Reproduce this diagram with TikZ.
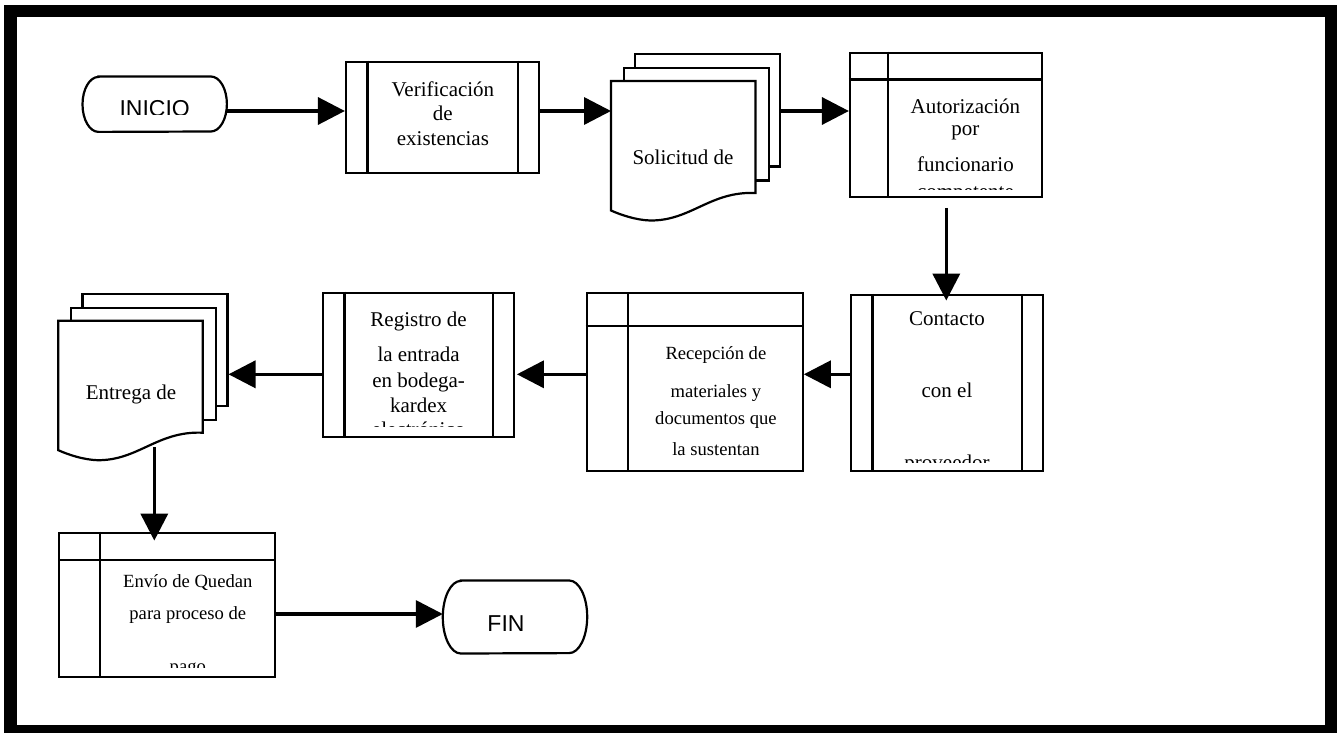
\documentclass[tikz,border=0pt]{standalone}
\usepackage{fontspec}
\setmainfont{Liberation Serif}
\newfontfamily\arialfont{Liberation Sans}
\usetikzlibrary{arrows.meta,calc}

\tikzset{
  outline/.style={line width=2.2pt, line join=miter},
  boxnode/.style={outline, draw, fill=white, rectangle, inner sep=0pt},
  page/.style={outline, draw, fill=white, rectangle, inner sep=0pt,
    minimum width=145pt, minimum height=112.5pt, anchor=north west},
  anchorbox/.style={inner sep=0pt, rectangle},
  conn/.style={line width=3.5pt, -{Triangle[length=27pt,width=27pt]}},
  txt/.style={inner sep=0pt, anchor=base, font=\fontsize{21}{25}\selectfont},
  smalltxt/.style={inner sep=0pt, anchor=base, font=\fontsize{18.6}{22}\selectfont},
  sanstxt/.style={inner sep=0pt, anchor=base, font=\arialfont\fontsize{23}{27}\selectfont},
}

% stack of three document sheets; #1 name prefix, (#2,#3) top-left of the front sheet
\newcommand\docstack[3]{%
  \node[page] (#1B) at (#2+23,#3-28) {};
  \node[page] (#1M) at (#2+11.5,#3-14) {};
  \node[anchorbox, minimum width=144.5pt, minimum height=139.5pt, anchor=north west] (#1F) at (#2,#3) {};
  \draw[outline, fill=white] (#2,#3) -- (#2+144.5,#3) -- (#2+144.5,#3+112)
    .. controls (#2+99,#3+110) and (#2+80,#3+140) .. (#2+39,#3+139.5)
    .. controls (#2+25,#3+139) and (#2+10,#3+134) .. (#2,#3+129.5) -- cycle;
}

% predefined process: two inner vertical bars
\newcommand\subbars[1]{%
  \draw[outline] ($(#1.north west)+(22.5,0)$) -- ($(#1.south west)+(22.5,0)$);
  \draw[outline] ($(#1.north east)+(-22.5,0)$) -- ($(#1.south east)+(-22.5,0)$);
}

% internal storage: one horizontal and one vertical divider
\newcommand\storagelines[3]{%
  \draw[outline] ($(#1.north west)+(0,#2)$) -- ($(#1.north east)+(0,#2)$);
  \draw[outline] ($(#1.north west)+(#3,0)$) -- ($(#1.south west)+(#3,0)$);
}

% terminal with elliptic ends
\newcommand\terminal[3]{%
  \draw[outline] ($(#1.north west)+(#2,0)$) -- ($(#1.north east)+(-#2,0)$)
    arc[start angle=90,end angle=-90,x radius=#2pt,y radius=#3pt]
    -- ($(#1.south west)+(#2,0)$)
    arc[start angle=270,end angle=90,x radius=#2pt,y radius=#3pt] -- cycle;
}

\begin{document}
\begin{tikzpicture}[x=1pt,y=-1pt]
\useasboundingbox (0,0) rectangle (1342,733);
\clip (0,0) rectangle (1342,733);
\fill[white] (0,0) rectangle (1342,733);

% outer frame
\draw[line width=12.5pt] (10.5,11) rectangle (1331,731);

% row coordinates for the connectors
\coordinate (row1) at (0,111);
\coordinate (row2) at (0,374.3);
\coordinate (row3) at (0,614);
\coordinate (entdrop) at (154.3,447);

% ---------- start ----------
\node[anchorbox, minimum width=144pt, minimum height=55pt] (inicio) at (154.7,104.2) {};
\terminal{inicio}{16}{27.5}
\begin{scope}
  \clip (80,70) rectangle (230,114.3);
  \node[sanstxt] (inicio-t) at (154.7,116.5) {INICIO};
\end{scope}

% ---------- verification ----------
\node[boxnode, minimum width=193pt, minimum height=111.6pt] (verif) at (442.5,117.5) {};
\subbars{verif}
\node[txt] (verif-1) at (442.9,97) {Verificación};
\node[txt] (verif-2) at (442.9,121) {de};
\node[txt] (verif-3) at (442.9,145.5) {existencias};

% ---------- request documents ----------
\docstack{sol}{611}{81}
\node[txt] (sol-t) at (683,164.5) {Solicitud de};

% ---------- authorisation ----------
\node[boxnode, minimum width=192pt, minimum height=144pt] (auto) at (946,124.7) {};
\storagelines{auto}{28}{38.7}
\node[txt] (auto-1) at (965.4,114) {Autorización};
\node[txt] (auto-2) at (965.4,135.7) {por};
\node[txt] (auto-3) at (965.4,171.5) {funcionario};
\begin{scope}
  \clip (890,150) rectangle (1040,189.5);
  \node[txt] (auto-4) at (965.4,198.2) {competente};
\end{scope}

% ---------- supplier contact ----------
\node[boxnode, minimum width=192pt, minimum height=175.7pt] (cont) at (947,382.85) {};
\subbars{cont}
\node[txt] (cont-1) at (947,325) {Contacto};
\node[txt] (cont-2) at (947,397.3) {con el};
\begin{scope}
  \clip (875,430) rectangle (1019,462.7);
  \node[txt] (cont-3) at (947,469) {proveedor};
\end{scope}

% ---------- reception ----------
\node[boxnode, minimum width=216pt, minimum height=177.4pt] (recep) at (694.7,382) {};
\storagelines{recep}{34}{42.3}
\node[smalltxt] (recep-1) at (715.9,359.6) {Recepción de};
\node[smalltxt] (recep-2) at (715.9,397) {materiales y};
\node[smalltxt] (recep-3) at (715.9,424) {documentos que};
\node[smalltxt] (recep-4) at (715.9,455) {la sustentan};

% ---------- warehouse register ----------
\node[boxnode, minimum width=191.3pt, minimum height=144pt] (regis) at (418.65,364.7) {};
\subbars{regis}
\node[txt] (regis-1) at (418.6,326) {Registro de};
\node[txt] (regis-2) at (418.6,361.6) {la entrada};
\node[txt] (regis-3) at (418.6,387.6) {en bodega-};
\node[txt] (regis-4) at (418.6,412.6) {kardex};
\begin{scope}
  \clip (347,415) rectangle (491,426);
  \node[txt] (regis-5) at (418.6,436) {electrónico};
\end{scope}

% ---------- delivery documents ----------
\docstack{ent}{58.3}{320.7}
\node[txt] (ent-t) at (131,399) {Entrega de};

% ---------- payment ----------
\node[boxnode, minimum width=215.5pt, minimum height=144.6pt] (envio) at (166.95,605) {};
\storagelines{envio}{28}{41.6}
\node[smalltxt] (envio-1) at (187.8,587.6) {Envío de Quedan};
\node[smalltxt] (envio-2) at (187.8,619.3) {para proceso de};
\begin{scope}
  \clip (103,640) rectangle (273,667.3);
  \node[smalltxt] (envio-3) at (187.8,672.4) {pago};
\end{scope}

% ---------- end ----------
\node[anchorbox, minimum width=144pt, minimum height=72.6pt] (fin) at (515,617) {};
\terminal{fin}{18}{36.3}
\node[sanstxt] (fin-t) at (506,631.5) {FIN};

% ---------- connectors ----------
\draw[conn] (inicio.east |- row1) -- (verif.west |- row1);
\draw[conn] (verif.east |- row1) -- (solF.west |- row1);
\draw[conn] (solB.east |- row1) -- (auto.west |- row1);
\draw[conn] ($(auto.south)+(0.3,10)$) -- ($(cont.north)+(-0.7,6.7)$);
\draw[conn] (cont.west |- row2) -- (recep.east |- row2);
\draw[conn] (recep.west |- row2) -- ($(regis.east |- row2)+(1.5,0)$);
\draw[conn] (regis.west |- row2) -- (entB.east |- row2);
\draw[conn] (entdrop) -- ($(envio.north -| entdrop)+(0,9)$);
\draw[conn] (envio.east |- row3) -- (fin.west |- row3);
\end{tikzpicture}
\end{document}
